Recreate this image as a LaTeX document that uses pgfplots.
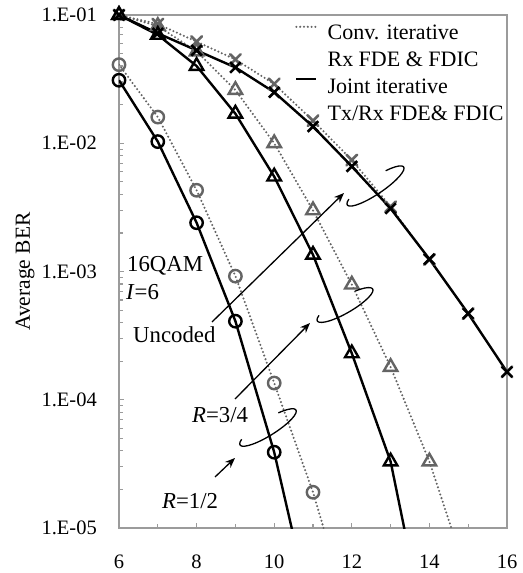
\documentclass[border=0pt]{standalone}
\usepackage{fontspec}
\setmainfont{Liberation Serif}
\usepackage{pgfplots}
\pgfplotsset{compat=1.18}
\usetikzlibrary{arrows.meta}
\definecolor{axgray}{RGB}{155,155,155}
\definecolor{convgray}{RGB}{100,100,100}
\pgfplotsset{
  dotleg/.style={legend image code/.code={\draw[##1] (0bp,7bp) -- (20bp,7bp);}},
  solleg/.style={legend image code/.code={\draw[##1] (0bp,9bp) -- (20bp,9bp);}},
  convstyle/.style={convgray, line width=2.3bp, line cap=round, dash pattern=on 0bp off 3.8bp},
}
\begin{document}
\fontsize{20.5bp}{24bp}\selectfont
\begin{tikzpicture}
\useasboundingbox (-119bp,-45bp) rectangle (404bp,528bp);
\begin{axis}[
  scale only axis, width=388bp, height=513bp,
  at={(0,0)}, anchor=south west,
  xmin=6, xmax=16, ymin=1e-5, ymax=1e-1, ymode=log,
  xtick={6,8,...,16}, minor xtick={7,9,...,15},
  xticklabels={6,8,10,12,14,16},
  ytick={1e-5,1e-4,1e-3,1e-2,1e-1},
  yticklabels={1.E-05,1.E-04,1.E-03,1.E-02,1.E-01},
  minor ytick={2e-5,3e-5,4e-5,5e-5,6e-5,7e-5,8e-5,9e-5,
               2e-4,3e-4,4e-4,5e-4,6e-4,7e-4,8e-4,9e-4,
               2e-3,3e-3,4e-3,5e-3,6e-3,7e-3,8e-3,9e-3,
               2e-2,3e-2,4e-2,5e-2,6e-2,7e-2,8e-2,9e-2},
  tick align=inside, xtick pos=bottom, ytick pos=left,
  major tick length=5.5bp, minor tick length=4bp,
  axis line style={axgray, line width=1.5bp},
  every tick/.style={axgray, line width=1.2bp},
  xticklabel style={inner sep=0pt, anchor=north, yshift=-27bp},
  yticklabel style={inner sep=0pt, anchor=east, xshift=-22bp},
  legend cell align=left,
  legend style={draw=none, fill=none, at={(rel axis cs:0.4536,0.990)}, anchor=north west,
    font=\fontsize{22bp}{26bp}\selectfont, inner sep=0bp, column sep=7bp, row sep=0bp,
    nodes={inner sep=3bp, text height=16bp, text depth=5bp}},
  clip=true,
]
% ---- legend images ----
\addlegendimage{convstyle, dotleg}
\addlegendentry{Conv. iterative}
\addlegendimage{empty legend}
\addlegendentry{Rx FDE \& FDIC}
\addlegendimage{black, line width=2.4bp, solleg}
\addlegendentry{Joint iterative}
\addlegendimage{empty legend}
\addlegendentry{Tx/Rx FDE\& FDIC}

% ---- Conventional (gray dotted) ----
\addplot[convstyle,
  mark=x, mark size=7.5bp, mark options={solid, line width=2.6bp}, forget plot] coordinates {
 (6,0.1) (7,0.085) (8,0.062) (9,0.045) (10,0.029) (11,0.015) (12,0.0074)
 (13,0.0032) (14,0.00124) (15,0.00047) (16,0.000165)};
\addplot[convstyle,
  mark=triangle, mark size=7.8bp, mark options={solid, line width=2.4bp}, forget plot] coordinates {
 (6,0.1) (7,0.082) (8,0.052) (9,0.026) (10,0.01) (11,0.003) (12,0.00079)
 (13,0.00018) (14,0.000033) (15,0.000004)};
\addplot[convstyle,
  mark=o, mark size=6.2bp, mark options={solid, line width=2.4bp}, forget plot] coordinates {
 (6,0.041) (7,0.016) (8,0.0043) (9,0.00092) (10,0.000135) (11,0.000019) (12,0.0000018)};

% ---- Joint (black solid) ----
\addplot[black, line width=2.4bp,
  mark=x, mark size=7.5bp, mark options={solid, line width=2.6bp}, forget plot] coordinates {
 (6,0.1) (7,0.072) (8,0.053) (9,0.039) (10,0.025) (11,0.0135) (12,0.0066)
 (13,0.0031) (14,0.00125) (15,0.00047) (16,0.000165)};
\addplot[black, line width=2.4bp,
  mark=triangle, mark size=7.8bp, mark options={solid, line width=2.4bp}, forget plot] coordinates {
 (6,0.1) (7,0.07) (8,0.04) (9,0.017) (10,0.0055) (11,0.00135) (12,0.00023)
 (13,0.000033) (14,0.0000011)};
\addplot[black, line width=2.4bp,
  mark=o, mark size=6.2bp, mark options={solid, line width=2.4bp}, forget plot] coordinates {
 (6,0.031) (7,0.0103) (8,0.0024) (9,0.00041) (10,0.000039) (11,0.0000019)};
\end{axis}

% ---- y label ----
\node[rotate=90, font=\fontsize{21.5bp}{26bp}\selectfont] at (-94bp,256.5bp) {Average BER};

% ---- annotations ----
\begingroup
\tikzset{ann/.style={anchor=base west, inner sep=0pt, font=\fontsize{22.8bp}{26bp}\selectfont}}
\node[ann] at (8bp,256bp) {16QAM};
\node[ann] at (7bp,228bp) {\textit{I}=6};
\node[ann] at (14bp,185bp) {Uncoded};
\node[ann] at (73bp,105bp) {\textit{R}=3/4};
\node[ann] at (43bp,20bp) {\textit{R}=1/2};
\endgroup

\draw[-{Stealth[length=10bp,width=8bp]}, line width=1.3bp] (93bp,206bp) -- (225bp,335bp);
\draw[-{Stealth[length=10bp,width=8bp]}, line width=1.3bp] (116bp,129bp) -- (191bp,205bp);
\draw[-{Stealth[length=10bp,width=8bp]}, line width=1.3bp] (96bp,51bp) -- (116bp,70bp);

\draw[line width=1.3bp, shift={(256.5bp,342bp)}, rotate=34]
  (60:34bp and 8bp) arc[start angle=60, end angle=-210, x radius=34bp, y radius=8bp];
\draw[line width=1.3bp, shift={(226bp,223bp)}, rotate=30]
  (60:32bp and 8bp) arc[start angle=60, end angle=-210, x radius=32bp, y radius=8bp];
\draw[line width=1.3bp, shift={(149bp,100.5bp)}, rotate=32]
  (60:33bp and 8bp) arc[start angle=60, end angle=-210, x radius=33bp, y radius=8bp];
\end{tikzpicture}
\end{document}
